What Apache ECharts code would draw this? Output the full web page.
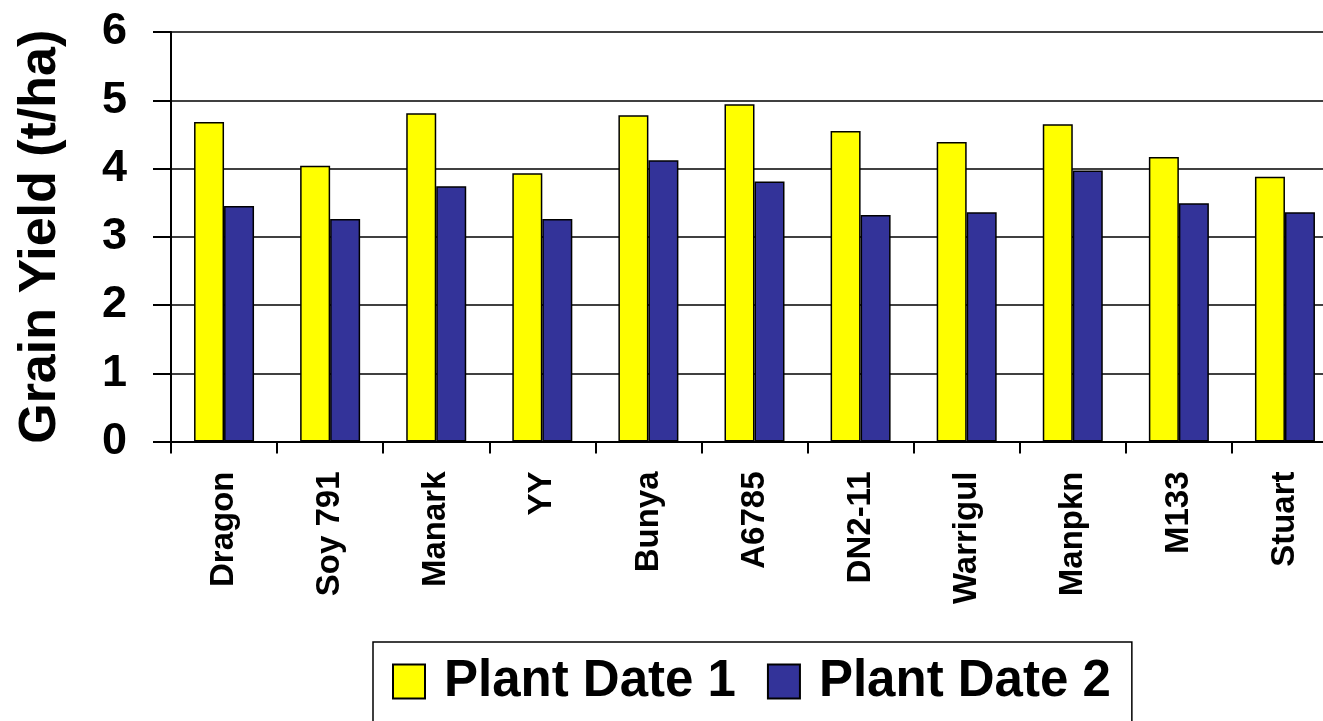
<!DOCTYPE html>
<html>
<head>
<meta charset="utf-8">
<script src="https://cdn.jsdelivr.net/npm/echarts@6/dist/echarts.min.js"></script>
<style>
html,body{margin:0;padding:0;background:#fff;overflow:hidden;width:1323px;height:721px;}
#chart{width:1400px;height:721px;}
</style>
</head>
<body>
<div id="chart"></div>
<script>
var categories = ['Dragon', 'Soy 791', 'Manark', 'YY', 'Bunya', 'A6785', 'DN2-11', 'Warrigul', 'Manpkn', 'M133', 'Stuart'];
var plantDate1 = [4.68, 4.04, 4.81, 3.93, 4.78, 4.94, 4.55, 4.39, 4.65, 4.17, 3.88];
var plantDate2 = [3.45, 3.26, 3.74, 3.26, 4.12, 3.81, 3.32, 3.36, 3.97, 3.49, 3.36];
var yTicks = [0, 1, 2, 3, 4, 5, 6];

var FONT = '"Liberation Sans", Arial, sans-serif';
var chart = echarts.init(document.getElementById('chart'));
chart.setOption({
  animation: false,
  backgroundColor: '#ffffff',
  grid: { left: 171, top: 32, bottom: 279.5, width: 1167, containLabel: false },
  legend: {
    data: ['Plant Date 1', 'Plant Date 2'],
    left: 373, top: 642,
    orient: 'horizontal',
    borderColor: '#000', borderWidth: 1.5,
    padding: [14, 21, 40, 19],
    itemWidth: 32, itemHeight: 34, itemGap: 31,
    icon: 'rect',
    textStyle: { fontFamily: FONT, fontWeight: 'bold', fontSize: 51, color: '#000', padding: [0, 0, 0, 14] }
  },
  xAxis: {
    type: 'category',
    data: categories,
    boundaryGap: true,
    axisLine: { lineStyle: { color: '#000', width: 2 } },
    axisTick: { show: true, length: 12, lineStyle: { color: '#000', width: 2 }, alignWithLabel: false },
    axisLabel: { rotate: 90, interval: 0, margin: 30, fontFamily: FONT, fontWeight: 'bold', fontSize: 33, color: '#000' },
    splitLine: { show: false }
  },
  yAxis: {
    type: 'value',
    min: yTicks[0], max: yTicks[yTicks.length - 1], interval: 1,
    name: 'Grain Yield (t/ha)',
    nameLocation: 'middle',
    nameGap: 104,
    nameRotate: 90,
    nameTextStyle: { fontFamily: FONT, fontWeight: 'bold', fontSize: 52, color: '#000' },
    axisLine: { show: true, lineStyle: { color: '#000', width: 2 } },
    axisTick: { show: true, length: 18, lineStyle: { color: '#000', width: 2 } },
    axisLabel: { margin: 44, fontFamily: FONT, fontWeight: 'bold', fontSize: 45, color: '#000' },
    splitLine: { show: true, lineStyle: { color: '#000', width: 1.5 } }
  },
  series: [
    {
      name: 'Plant Date 1', type: 'bar', data: plantDate1,
      barWidth: 30, barGap: '0%',
      itemStyle: { color: '#FFFF00', borderColor: '#000', borderWidth: 1.5 }
    },
    {
      name: 'Plant Date 2', type: 'bar', data: plantDate2,
      barWidth: 30, barGap: '0%',
      itemStyle: { color: '#333399', borderColor: '#000', borderWidth: 1.5 }
    }
  ]
});
</script>
</body>
</html>
